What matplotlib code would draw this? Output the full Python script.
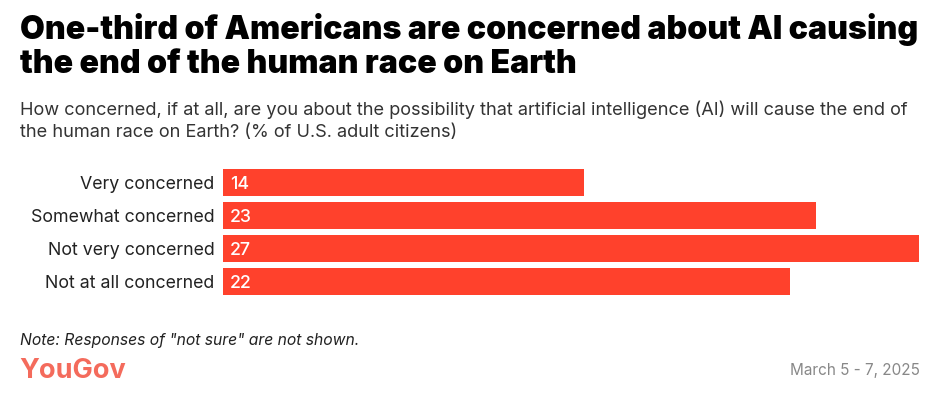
import matplotlib
import matplotlib.pyplot as plt

matplotlib.use("Agg")

categories = ["Very concerned", "Somewhat concerned", "Not very concerned", "Not at all concerned"]
values = [14, 23, 27, 22]

BAR_COLOR = "#FF412C"
W, H = 943, 397

plt.rcParams["font.family"] = ["Inter", "DejaVu Sans"]

fig = plt.figure(figsize=(W / 100, H / 100), dpi=100)
fig.patch.set_facecolor("white")


def fx(px):
  return px / W


def fy(py):
  return 1 - py / H


# axes box in pixel coords: x 223..919, y 163..301
ax = fig.add_axes([fx(223), fy(301), fx(919) - fx(223), (301 - 163) / H])
pos = list(range(len(categories)))
ax.barh(pos, values, height=30 / 36, color=BAR_COLOR)
ax.set_xlim(0, 27)
ax.set_ylim(len(categories) - 0.5 + 3 / 36, -0.5 - 3 / 36)
ax.axis("off")

for i, (cat, val) in enumerate(zip(categories, values)):
  ax.text(-0.33, i, cat, ha="right", va="center_baseline", fontsize=12.8, color="#222222")
  ax.text(0.27, i, str(val), ha="left", va="center_baseline", fontsize=12.8, color="white", fontweight="medium")

fig.text(fx(20), fy(39), "One-third of Americans are concerned about AI causing",
         fontsize=23.1, fontweight="black", color="black", va="baseline")
fig.text(fx(20), fy(73), "the end of the human race on Earth",
         fontsize=23.1, fontweight="black", color="black", va="baseline")
fig.text(fx(20), fy(115),
         "How concerned, if at all, are you about the possibility that artificial intelligence (AI) will cause the end of",
         fontsize=13.1, color="#333333", va="baseline")
fig.text(fx(20), fy(137), "the human race on Earth? (% of U.S. adult citizens)",
         fontsize=13.1, color="#333333", va="baseline")

fig.text(fx(20), fy(345), 'Note: Responses of "not sure" are not shown.',
         fontsize=11.3, style="italic", color="#222222", va="baseline")
fig.text(fx(19), fy(378), "YouGov", fontsize=19.5, fontweight="bold", color="#F46B5C", va="baseline")
fig.text(fx(920), fy(375), "March 5 - 7, 2025", fontsize=11, color="#888888", va="baseline", ha="right")

fig.savefig("out.png", dpi=100)
